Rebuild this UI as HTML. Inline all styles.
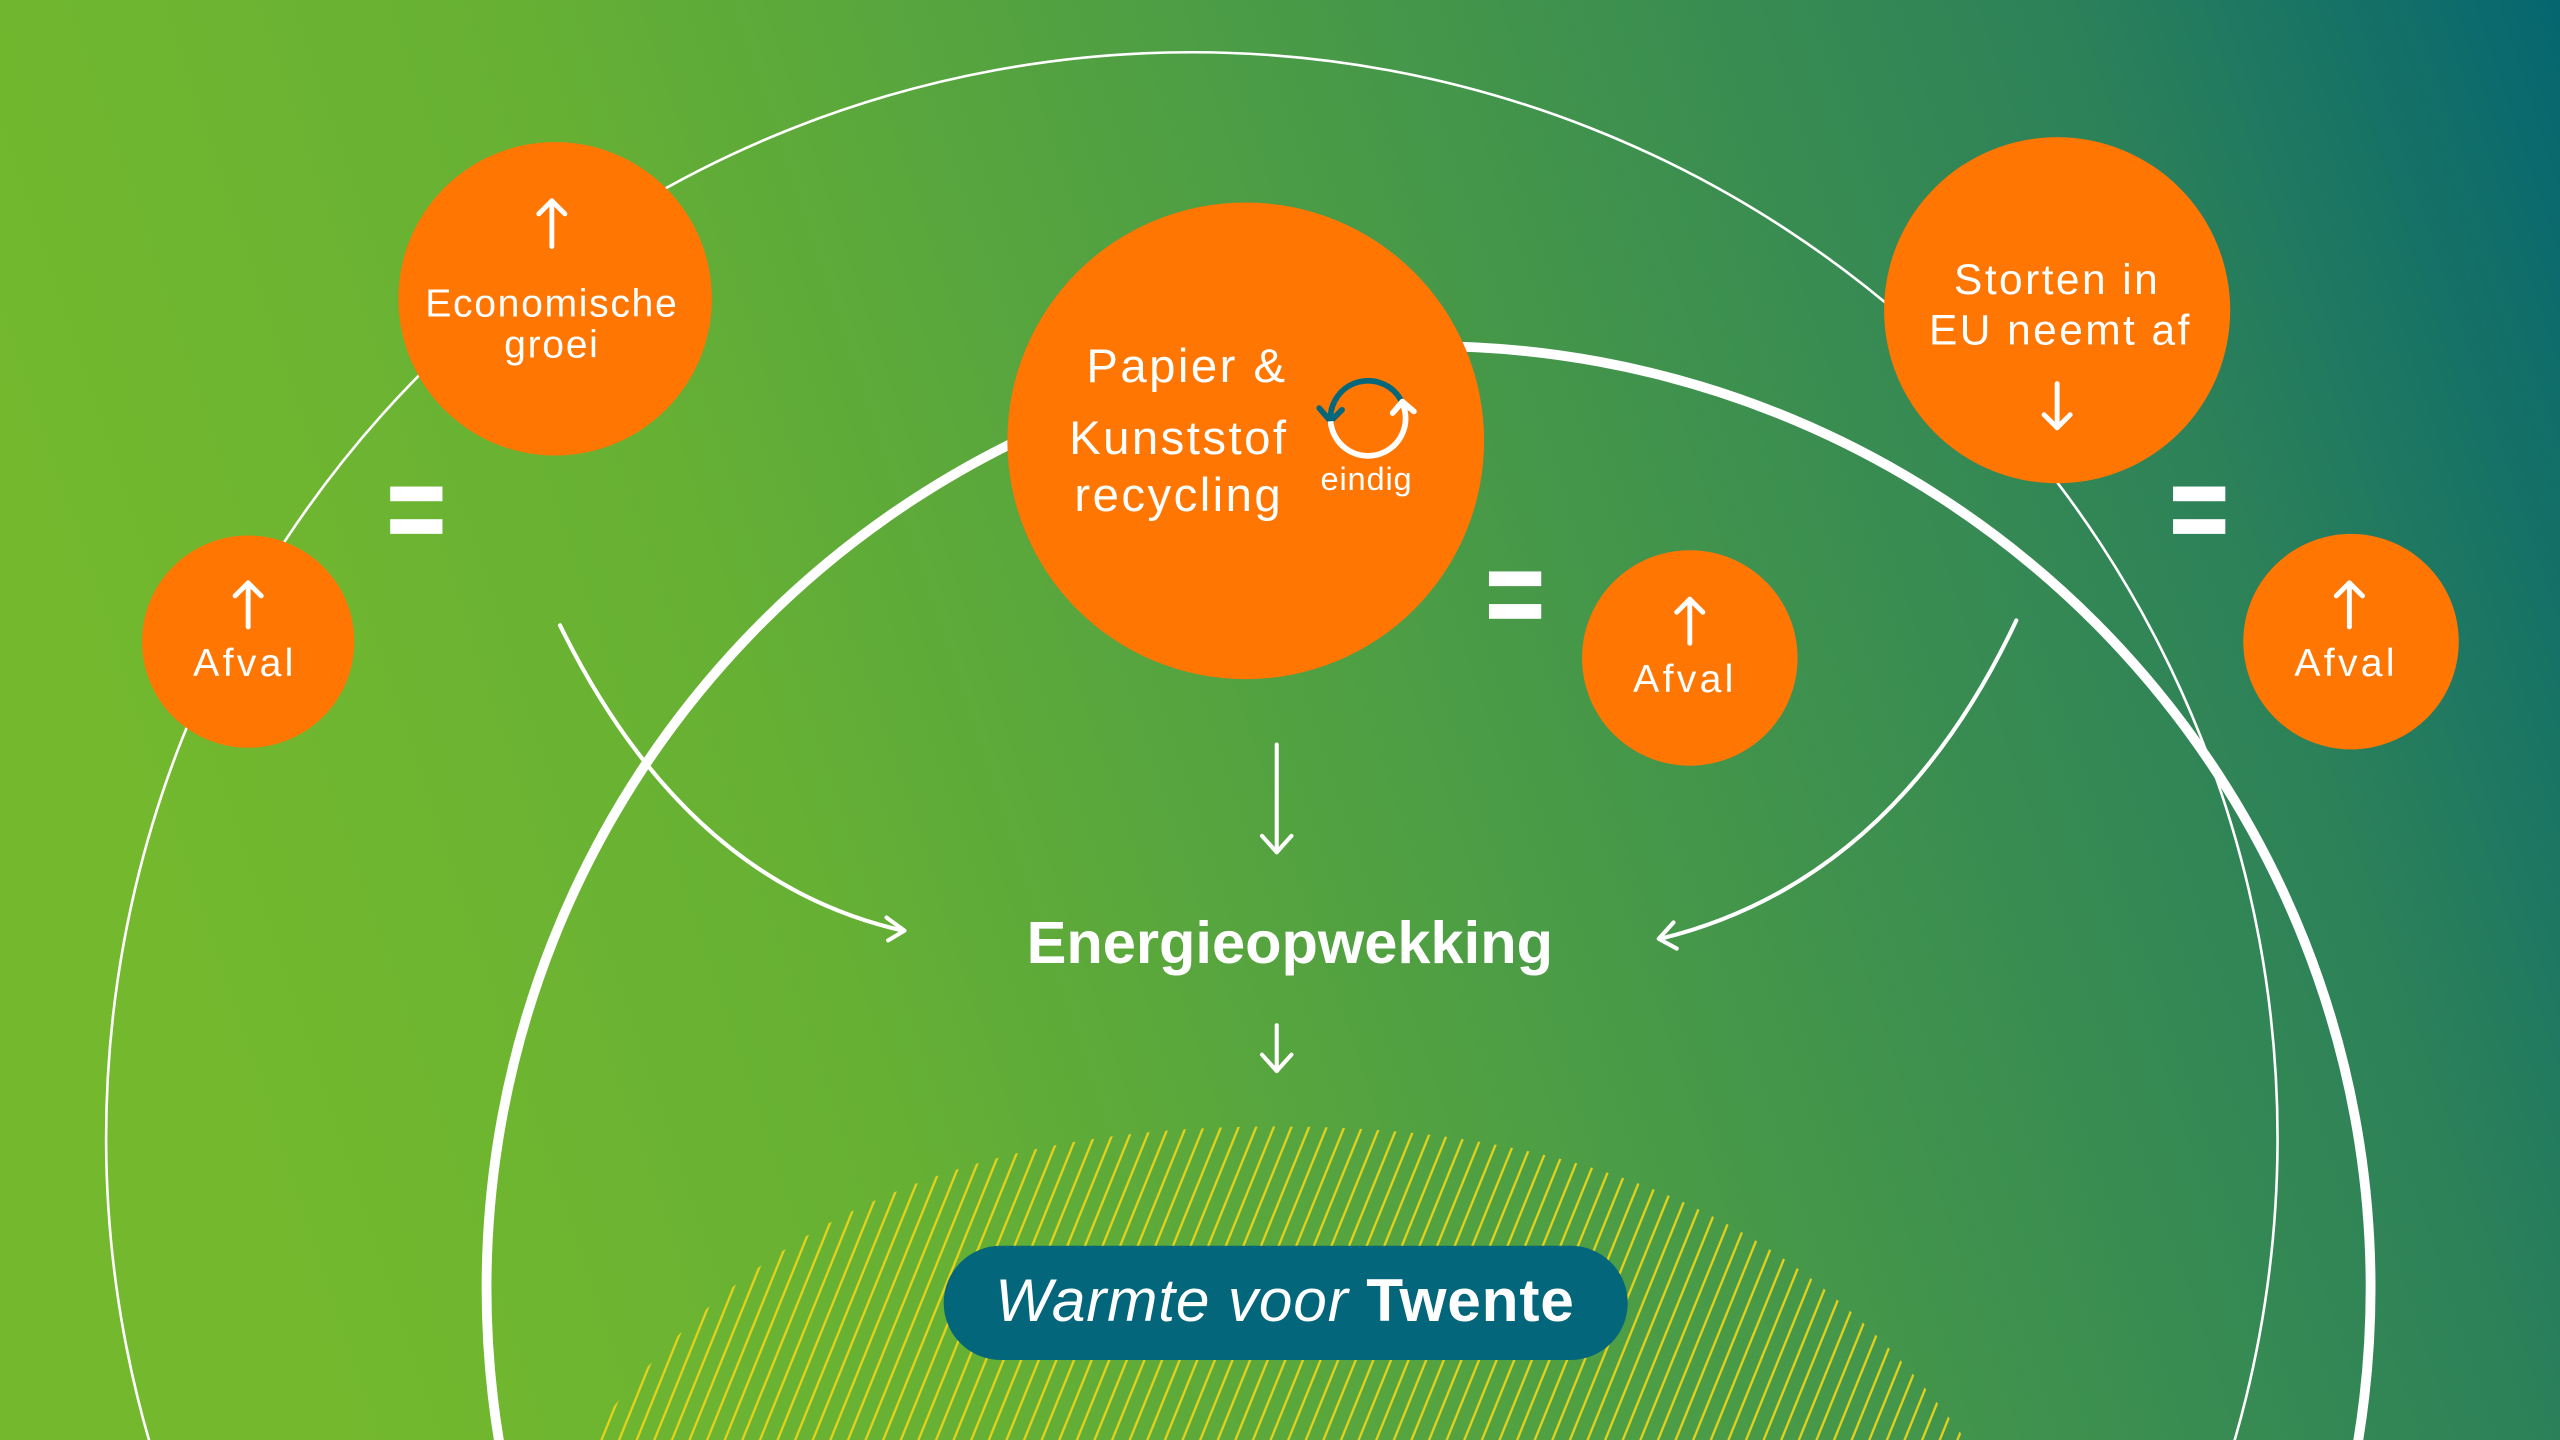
<!DOCTYPE html>
<html><head><meta charset="utf-8">
<style>
html,body{margin:0;padding:0;width:2560px;height:1440px;overflow:hidden}
svg{display:block;position:absolute;left:0;top:0;overflow:hidden}
text{font-family:"Liberation Sans",sans-serif;fill:#fff}
</style></head>
<body>
<svg width="2560" height="1440" viewBox="0 0 1568 882" xmlns="http://www.w3.org/2000/svg">
<defs>
<linearGradient id="bg" x1="100" y1="600" x2="1600" y2="100" gradientUnits="userSpaceOnUse">
<stop offset="0" stop-color="#74b92d"/>
<stop offset="0.25" stop-color="#66b034"/>
<stop offset="0.5" stop-color="#4c9d45"/>
<stop offset="0.82" stop-color="#2c8159"/>
<stop offset="1" stop-color="#056670"/>
</linearGradient>
<pattern id="hatch" patternUnits="userSpaceOnUse" width="10" height="10" patternTransform="rotate(22)">
<line x1="2" y1="0" x2="2" y2="10" stroke="#e6d21c" stroke-width="1.4"/>
</pattern>
<clipPath id="hill"><path d="M360,882 C450,760 570,690 782,690 C995,690 1115,760 1204,882 Z"/></clipPath>
</defs>
<rect width="1568" height="882" fill="url(#bg)"/>
<rect x="340" y="680" width="880" height="202" fill="url(#hatch)" clip-path="url(#hill)"/>
<circle cx="730" cy="697" r="665" fill="none" stroke="#fff" stroke-width="1.6"/>
<circle cx="875" cy="789" r="577" fill="none" stroke="#fff" stroke-width="6"/>
<path d="M343,383 Q420,540 553,570" fill="none" stroke="#fff" stroke-width="2.5" stroke-linecap="round"/>
<polyline points="543,562 554,570 544,576" fill="none" stroke="#fff" stroke-width="2.5" stroke-linecap="round" stroke-linejoin="round"/>
<path d="M1235,380 Q1160,540 1017,575" fill="none" stroke="#fff" stroke-width="2.5" stroke-linecap="round"/>
<polyline points="1025,565 1016,575 1027,581" fill="none" stroke="#fff" stroke-width="2.5" stroke-linecap="round" stroke-linejoin="round"/>
<g stroke="#fff" stroke-width="2.5" stroke-linecap="round" stroke-linejoin="round" fill="none">
<line x1="782" y1="456" x2="782" y2="522"/><polyline points="773,512 782,522 791,512"/>
<line x1="782" y1="628" x2="782" y2="656"/><polyline points="773,646 782,656 791,646"/>
</g>
<text x="790" y="590" font-size="36.5" font-weight="bold" text-anchor="middle">Energieopwekking</text>
<g fill="#ff7603">
<circle cx="340" cy="183" r="96"/>
<circle cx="152" cy="393" r="65"/>
<circle cx="763" cy="270" r="146"/>
<circle cx="1035" cy="403" r="66"/>
<circle cx="1260" cy="190" r="106"/>
<circle cx="1440" cy="393" r="66"/>
</g>
<g stroke="#fff" stroke-width="3" stroke-linecap="round" stroke-linejoin="round" fill="none">
<line x1="338" y1="123" x2="338" y2="151"/><polyline points="330,131 338,123 346,131"/>
<line x1="152" y1="357" x2="152" y2="384"/><polyline points="144,365 152,357 160,365"/>
<line x1="1035" y1="367" x2="1035" y2="394"/><polyline points="1027,375 1035,367 1043,375"/>
<line x1="1439" y1="357" x2="1439" y2="384"/><polyline points="1431,365 1439,357 1447,365"/>
<line x1="1260" y1="235" x2="1260" y2="262"/><polyline points="1252,254 1260,262 1268,254"/>
</g>
<g font-size="24" text-anchor="middle" letter-spacing="1">
<text x="338" y="194">Economische</text>
<text x="338" y="219">groei</text>
<text x="150" y="414" letter-spacing="2">Afval</text>
<text x="1032" y="424" letter-spacing="2">Afval</text>
<text x="1437" y="414" letter-spacing="2">Afval</text>
</g>
<g font-size="26" text-anchor="middle" letter-spacing="1.5">
<text x="1260" y="180">Storten in</text>
<text x="1262" y="211">EU neemt af</text>
</g>
<g font-size="29" text-anchor="middle" letter-spacing="1.5">
<text x="727" y="234">Papier &amp;</text>
<text x="722" y="278">Kunststof</text>
<text x="722" y="313">recycling</text>
</g>
<path d="M815,258 A23,23 0 0 1 859,247" fill="none" stroke="#05687a" stroke-width="3.5"/>
<polyline points="808,250 815,258 822,251" fill="none" stroke="#05687a" stroke-width="3.5" stroke-linecap="round" stroke-linejoin="round"/>
<path d="M859,247 A23,23 0 1 1 815,258" fill="none" stroke="#fff" stroke-width="3.5"/>
<polyline points="853,253 859,246 866,252" fill="none" stroke="#fff" stroke-width="3.5" stroke-linecap="round" stroke-linejoin="round"/>
<text x="837" y="300" font-size="20" text-anchor="middle" letter-spacing="0.5">eindig</text>
<g fill="#fff">
<rect x="239" y="298" width="32" height="9"/><rect x="239" y="318" width="32" height="9"/>
<rect x="912" y="350" width="32" height="9"/><rect x="912" y="370" width="32" height="9"/>
<rect x="1331" y="298" width="32" height="9"/><rect x="1331" y="318" width="32" height="9"/>
</g>
<rect x="578" y="763" width="419" height="70" rx="35" fill="#03667a"/>
<text x="787" y="809" font-size="37" text-anchor="middle" letter-spacing="0.5"><tspan font-style="italic">Warmte voor </tspan><tspan font-weight="bold">Twente</tspan></text>
</svg>
</body></html>
